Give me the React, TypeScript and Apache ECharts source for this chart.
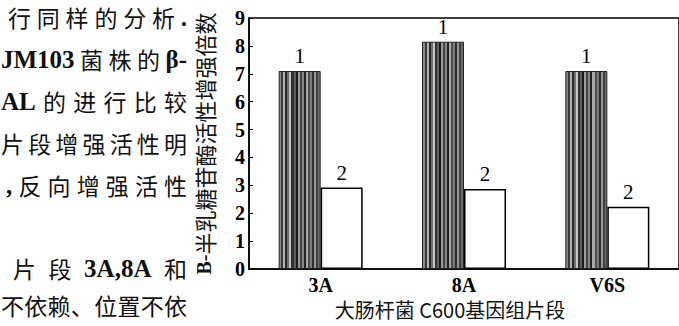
import React, { useEffect, useRef } from 'react';
import * as echarts from 'echarts';

// ---- chart data ----
const categories = ['3A', '8A', 'V6S'];
const seriesNames = ['1', '2'];
const series1Values = [7.1, 8.15, 7.1];
const series2Values = [2.92, 2.87, 2.23];
const yMin = 0;
const yMax = 9;
const yStep = 1;
const yAxisTitle = 'B-半乳糖苷酶活性增强倍数';
const xAxisTitle = '大肠杆菌 C600基因组片段';

// ---- surrounding article text (cropped in the scan) ----
const bodyLines: string[][] = [
  ['行', '同', '样', '的', '分', '析', '.'],
  ['JM103', '菌', '株', '的', 'β-'],
  ['AL', '的', '进', '行', '比', '较'],
  ['片', '段', '增', '强', '活', '性', '明'],
  [',', '反', '向', '增', '强', '活', '性'],
  ['片', '段', '3A,8A', '和'],
  ['不', '依', '赖', '、', '位', '置', '不', '依'],
];

// layout (not data)
const bodyLeft = [8, 1, 1, 1, 6, 13, 1];
const bodyY = [17, 59, 101, 143, 185, 268, 305];
const bodyRight = 187;

const CJK = '"Noto Sans CJK SC", sans-serif';
const SERIF = '"Liberation Serif", "Times New Roman", serif';
const CJK_SIZE = 23;
const LAT_SIZE = 25;

const stripeGrays = [
  '#8a8a8a', '#3a3a3a', '#b0b0b0', '#2a2a2a', '#707070', '#c4c4c4', '#333333',
  '#606060', '#1a1a1a', '#9a9a9a', '#444444', '#888888', '#222222', '#a8a8a8',
  '#505050', '#7a7a7a', '#2e2e2e', '#959595', '#404040', '#6a6a6a',
];

const isLatin = (t: string) => /^[A-Za-z0-9,.\-β]+$/.test(t);

function buildBodyText(): any[] {
  const canvas = document.createElement('canvas');
  const ctx = canvas.getContext('2d')!;
  const els: any[] = [];
  bodyLines.forEach((tokens, li) => {
    const fonts = tokens.map((t) =>
      isLatin(t) ? `bold ${LAT_SIZE}px ${SERIF}` : `${CJK_SIZE}px ${CJK}`
    );
    const widths = tokens.map((t, i) => {
      if (!isLatin(t)) return CJK_SIZE;
      ctx.font = fonts[i];
      return ctx.measureText(t).width;
    });
    const total = widths.reduce((a, b) => a + b, 0);
    const gap = (bodyRight - bodyLeft[li] - total) / Math.max(1, tokens.length - 1);
    let x = bodyLeft[li];
    tokens.forEach((t, i) => {
      const lat = isLatin(t);
      els.push({
        type: 'text',
        x,
        y: bodyY[li],
        style: {
          text: t,
          fill: '#111',
          fontFamily: lat ? SERIF : CJK,
          fontWeight: lat ? 'bold' : 'normal',
          fontSize: lat ? LAT_SIZE : CJK_SIZE,
          textAlign: 'left',
          textVerticalAlign: 'middle',
        },
      });
      x += widths[i] + gap;
    });
  });
  return els;
}

export default function App() {
  const ref = useRef<HTMLDivElement>(null);

  useEffect(() => {
    if (!ref.current) return;
    const chart = echarts.init(ref.current, null, { renderer: 'svg' });

    const n = stripeGrays.length;
    const stops: any[] = [];
    stripeGrays.forEach((c, i) => {
      stops.push({ offset: i / n, color: c });
      stops.push({ offset: (i + 1) / n, color: c });
    });
    const stripe = new echarts.graphic.LinearGradient(0, 0, 1, 0, stops);

    const labelStyle = {
      show: true,
      position: 'top' as const,
      distance: 4,
      formatter: '{a}',
      color: '#000',
      fontFamily: SERIF,
      fontSize: 21,
    };

    chart.setOption({
      animation: false,
      backgroundColor: '#fff',
      grid: {
        left: 249,
        top: 18,
        width: 438,
        height: 251,
        show: true,
        borderColor: '#000',
        borderWidth: 1.5,
        backgroundColor: 'transparent',
      },
      xAxis: {
        type: 'category',
        data: categories,
        axisLine: { lineStyle: { color: '#000', width: 1.5 } },
        axisTick: { show: false },
        axisLabel: {
          color: '#000',
          fontFamily: SERIF,
          fontWeight: 'bold',
          fontSize: 20,
          margin: 6,
        },
      },
      yAxis: {
        type: 'value',
        min: yMin,
        max: yMax,
        interval: yStep,
        name: '{b|B-}' + yAxisTitle.slice(2),
        nameLocation: 'middle',
        nameRotate: 90,
        nameGap: 34,
        nameTextStyle: {
          color: '#111',
          fontFamily: CJK,
          fontSize: 22,
          rich: {
            b: { fontFamily: SERIF, fontWeight: 'bold', fontSize: 20, color: '#111' },
          },
        },
        axisLine: { show: true, lineStyle: { color: '#000', width: 1.5 } },
        axisTick: { show: true, inside: true, length: 4, lineStyle: { color: '#000' } },
        splitLine: { show: false },
        axisLabel: {
          color: '#000',
          fontFamily: SERIF,
          fontWeight: 'bold',
          fontSize: 20,
          margin: 4,
        },
      },
      series: [
        {
          name: seriesNames[0],
          type: 'bar',
          data: series1Values,
          barWidth: 42,
          barGap: '0%',
          itemStyle: { color: stripe, borderColor: '#222', borderWidth: 1 },
          label: labelStyle,
        },
        {
          name: seriesNames[1],
          type: 'bar',
          data: series2Values,
          barWidth: 42,
          barGap: '0%',
          itemStyle: { color: '#fff', borderColor: '#000', borderWidth: 1.5 },
          label: labelStyle,
        },
      ],
      graphic: [
        ...buildBodyText(),
        {
          type: 'text',
          x: 450,
          y: 309,
          style: {
            text: xAxisTitle,
            fill: '#111',
            fontFamily: CJK,
            fontSize: 20,
            textAlign: 'center',
            textVerticalAlign: 'middle',
          },
        },
      ],
    });

    return () => chart.dispose();
  }, []);

  return (
    <div
      ref={ref}
      style={{ position: 'fixed', left: 0, top: 0, width: 679, height: 326, background: '#fff' }}
    />
  );
}
